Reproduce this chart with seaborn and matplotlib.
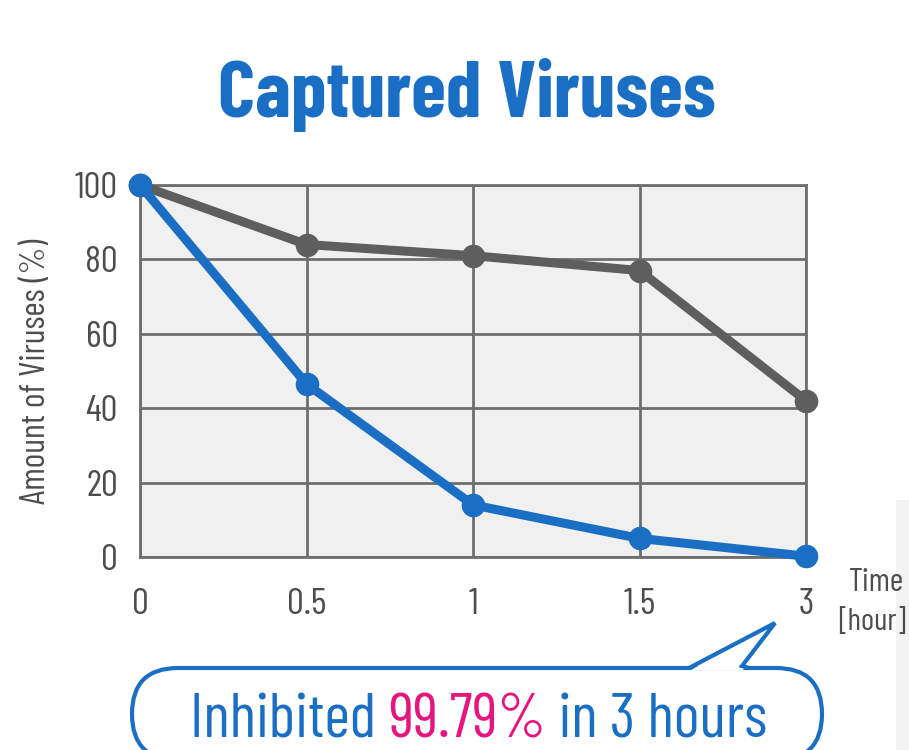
import matplotlib
matplotlib.use("Agg")
import matplotlib.pyplot as plt
import seaborn as sns
import pandas as pd
from matplotlib.patches import FancyBboxPatch, Polygon, Rectangle

# values
tiempos = ["0", "0.5", "1", "1.5", "3"]
control = [100, 84, 81, 77, 42]
capturado = [100, 46.5, 14, 5, 0.21]

AZUL = "#1a6fc4"
GRIS = "#5e5e5e"
TEXTO = "#4d4d4d"
ROSA = "#e5177f"
W, H = 909, 750

df = pd.DataFrame({
    "tiempo": tiempos * 2,
    "valor": control + capturado,
    "serie": ["control"] * len(tiempos) + ["capturado"] * len(tiempos),
})

sns.set_style("white")
plt.rcParams["font.family"] = ["Barlow Condensed", "DejaVu Sans"]

fig = plt.figure(figsize=(9.09, 7.5), dpi=100)

# overlay in pixel coordinates for the speech bubble
fondo = fig.add_axes([0, 0, 1, 1], zorder=0)
fondo.set_xlim(0, W)
fondo.set_ylim(H, 0)
fondo.axis("off")

ax = fig.add_axes([140 / W, 1 - 557 / H, 666 / W, 372 / H], zorder=2)
ax.set_facecolor("#f0f0f0")

sns.lineplot(data=df, x="tiempo", y="valor", hue="serie",
             palette={"control": GRIS, "capturado": AZUL},
             marker="o", markersize=17, markeredgewidth=0,
             linewidth=6.5, sort=False, legend=False, ax=ax, zorder=5)

ax.set_xlim(0, len(tiempos) - 1)
ax.set_ylim(0, 100)
ax.set_yticks(range(0, 101, 20))
ax.grid(True, color="#6e6e6e", linewidth=2.0)
for s in ax.spines.values():
    s.set_color("#6e6e6e")
    s.set_linewidth(2.0)
for l in ax.lines:
    l.set_clip_on(False)

ax.tick_params(axis="both", length=0, labelsize=27, colors=TEXTO)
ax.tick_params(axis="x", pad=22)
ax.tick_params(axis="y", pad=16)
ax.set_xlabel("")
ax.set_ylabel("Amount of Viruses (%)", fontsize=25, color=TEXTO, labelpad=16)

titulo = fig.text(467 / W, 1 - 117 / H, "Captured Viruses", ha="center", va="baseline",
                  fontsize=60, fontweight="bold", color=AZUL)

tiempo = fig.text(849 / W, 1 - 583 / H, "Time", ha="left", va="center", fontsize=22, color=TEXTO)
hora = fig.text(838 / W, 1 - 622 / H, "[hour]", ha="left", va="center", fontsize=22, color=TEXTO)

# faint page edge on the right
fondo.add_patch(Rectangle((896, 500), 20, 260, facecolor="#f3f3f3", edgecolor="none"))

# speech bubble, rounded ends running off the bottom edge
borde = 3.0
fondo.add_patch(FancyBboxPatch((132, 668), 690, 92, boxstyle="round,pad=0,rounding_size=46",
                               facecolor="white", edgecolor=AZUL, linewidth=borde))
fondo.add_patch(Polygon([(691, 670), (775, 623), (743, 670)], closed=True,
                        facecolor="white", edgecolor="none"))
fondo.plot([689, 775, 742, 749], [668, 623, 666, 668], color=AZUL, linewidth=borde,
           solid_joinstyle="miter", solid_capstyle="butt")

partes = [("Inhibited ", AZUL), ("99.79%", ROSA), (" in 3 hours", AZUL)]
textos = [fig.text(0, 1 - 738 / H, t, color=c, fontsize=46, va="baseline", ha="left", zorder=5)
          for t, c in partes]

# fit text widths to the reference
fig.canvas.draw()
r = fig.canvas.get_renderer()
def ajustar(t, ancho):
    w = t.get_window_extent(r).width
    t.set_fontsize(t.get_fontsize() * ancho / w)

ajustar(titulo, 498)
ajustar(tiempo, 55)
ajustar(hora, 68)
total = sum(t.get_window_extent(r).width for t in textos)
for t in textos:
    t.set_fontsize(t.get_fontsize() * 578 / total)
fig.canvas.draw()
x = 190
for t in textos:
    t.set_x(x / W)
    x += t.get_window_extent(r).width

fig.savefig("out.png", dpi=100)
